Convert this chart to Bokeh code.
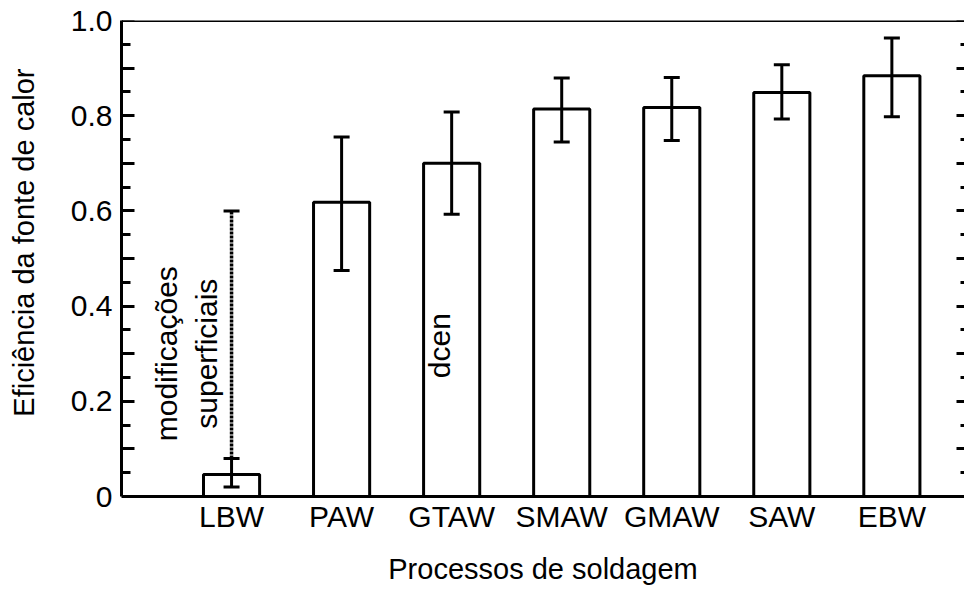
from math import pi
from bokeh.plotting import figure
from bokeh.models import (ColumnDataSource, Range1d, FixedTicker, LinearAxis,
                          Whisker, TeeHead, Title)
from bokeh.core.properties import value
from bokeh.embed import file_html
from bokeh.resources import INLINE

# ---- data ----
PROCESSES = ["LBW", "PAW", "GTAW", "SMAW", "GMAW", "SAW", "EBW"]
POSITIONS = [1, 2, 3, 4, 5, 6, 7]
EFFICIENCY = [0.046, 0.618, 0.700, 0.814, 0.817, 0.849, 0.884]
ERR_LOW = [0.020, 0.475, 0.593, 0.745, 0.748, 0.793, 0.798]
ERR_HIGH = [0.080, 0.755, 0.808, 0.879, 0.880, 0.907, 0.963]

# dotted extension of LBW range (surface modifications)
EXT_POS = [1]
EXT_LOW = [0.080]
EXT_HIGH = [0.600]

NOTE_TEXT = ["modificações\nsuperficiais", "dcen"]
NOTE_X = [0.59, 2.89]
NOTE_Y = [0.30, 0.317]

Y_LABEL_TICKS = [0.0, 0.2, 0.4, 0.6, 0.8, 1.0]
Y_LABELS = ["0", "0.2", "0.4", "0.6", "0.8", "1.0"]
Y_TICKS = [0.0, 0.1, 0.2, 0.3, 0.4, 0.5, 0.6, 0.7, 0.8, 0.9, 1.0]
Y_MINOR = [0.05, 0.15, 0.25, 0.35, 0.45, 0.55, 0.65, 0.75, 0.85, 0.95]
SPACER_TICK = [0.5]

X_TITLE = "Processos de soldagem"
Y_TITLE = "Eficiência da fonte de calor"

FONT = "Liberation Sans"

X0, X1 = 0, 7.66
Y0, Y1 = 0, 1.0

p = figure(width=964, height=589, output_backend="svg", toolbar_location=None,
           x_range=Range1d(X0, X1), y_range=Range1d(Y0, Y1),
           min_border_left=121, min_border_right=0, min_border_top=20,
           min_border_bottom=93)
p.outline_line_color = None
p.xgrid.visible = False
p.ygrid.visible = False
p.background_fill_color = "white"
p.border_fill_color = "white"

bars = ColumnDataSource(dict(x=POSITIONS, top=EFFICIENCY, lower=ERR_LOW,
                             upper=ERR_HIGH, name=PROCESSES))
p.vbar(x="x", top="top", bottom=0, width=0.51, source=bars,
       fill_color="white", line_color="black", line_width=3)

err = Whisker(source=bars, base="x", lower="lower", upper="upper",
              line_color="black", line_width=3, level="overlay",
              upper_head=TeeHead(size=16, line_width=3, line_color="black"),
              lower_head=TeeHead(size=16, line_width=3, line_color="black"))
p.add_layout(err)

ext = ColumnDataSource(dict(x=EXT_POS, lower=EXT_LOW, upper=EXT_HIGH))
ext_w = Whisker(source=ext, base="x", lower="lower", upper="upper",
                line_color="black", line_width=3.5, line_dash="3 1",
                level="overlay",
                upper_head=TeeHead(size=16, line_width=3, line_color="black"),
                lower_head=None)
p.add_layout(ext_w)

notes = ColumnDataSource(dict(x=NOTE_X, y=NOTE_Y, text=NOTE_TEXT))
p.text(x="x", y="y", text="text", source=notes, angle=pi / 2,
       text_align="center", text_baseline="middle",
       text_font=value(FONT), text_font_size="30px", text_color="black",
       text_line_height=1.2)

# x axis
xa = p.xaxis[0]
xa.ticker = FixedTicker(ticks=POSITIONS)
xa.major_label_overrides = {k: v for k, v in zip(POSITIONS, PROCESSES)}
xa.major_tick_line_color = None
xa.minor_tick_line_color = None
xa.major_tick_out = 0
xa.major_tick_in = 0
xa.axis_line_width = 3
xa.major_label_standoff = 3
xa.major_label_text_font = FONT
xa.major_label_text_font_size = "30px"
xa.major_label_text_color = "black"
xa.axis_label = X_TITLE
xa.axis_label_text_font = FONT
xa.axis_label_text_font_size = "29px"
xa.axis_label_text_font_style = "normal"
xa.axis_label_text_color = "black"
xa.axis_label_standoff = 17

# y axis (labels + line)
ya = p.yaxis[0]
ya.ticker = FixedTicker(ticks=Y_LABEL_TICKS, minor_ticks=[])
ya.major_label_overrides = {k: v for k, v in zip(Y_LABEL_TICKS, Y_LABELS)}
ya.axis_line_width = 3
ya.major_tick_line_color = None
ya.minor_tick_line_color = None
ya.major_tick_out = 0
ya.major_tick_in = 0
ya.major_label_standoff = 9
ya.major_label_text_font = FONT
ya.major_label_text_font_size = "30px"
ya.major_label_text_color = "black"

# y ticks drawn inward at the frame edge
lt = LinearAxis(fixed_location=X0,
                ticker=FixedTicker(ticks=Y_TICKS, minor_ticks=Y_MINOR),
                axis_line_color=None, major_tick_in=13, major_tick_out=0,
                minor_tick_in=9, minor_tick_out=0, major_tick_line_width=3,
                minor_tick_line_width=3, major_label_text_color=None)
p.add_layout(lt, "left")

# invisible spacer axis between tick labels and y title
sp = LinearAxis(ticker=FixedTicker(ticks=SPACER_TICK, minor_ticks=[]),
                axis_line_color=None, major_tick_in=0, major_tick_out=19,
                minor_tick_in=0, minor_tick_out=0,
                major_tick_line_color="white", minor_tick_line_color=None,
                major_label_overrides={SPACER_TICK[0]: ""},
                major_label_standoff=0, major_label_text_color=None)
p.add_layout(sp, "left")

ytitle = Title(text=Y_TITLE, align="right", offset=48, vertical_align="top",
               standoff=14, text_font=FONT, text_font_size="29px",
               text_font_style="normal", text_color="black")
p.add_layout(ytitle, "left")

# right axis (ticks only, its line lies beyond the visible edge)
ra = LinearAxis(fixed_location=X1,
                ticker=FixedTicker(ticks=Y_TICKS, minor_ticks=Y_MINOR),
                axis_line_color=None, major_tick_in=8, major_tick_out=0,
                minor_tick_in=4, minor_tick_out=0, major_tick_line_width=3,
                minor_tick_line_width=3, major_label_text_color=None)
p.add_layout(ra, "right")

# top frame line
ta = LinearAxis(fixed_location=Y1, ticker=FixedTicker(ticks=[]),
                axis_line_width=3, major_tick_line_color=None,
                minor_tick_line_color=None, major_label_text_color=None)
p.add_layout(ta, "above")

open("out.html", "w").write(file_html(p, INLINE))
